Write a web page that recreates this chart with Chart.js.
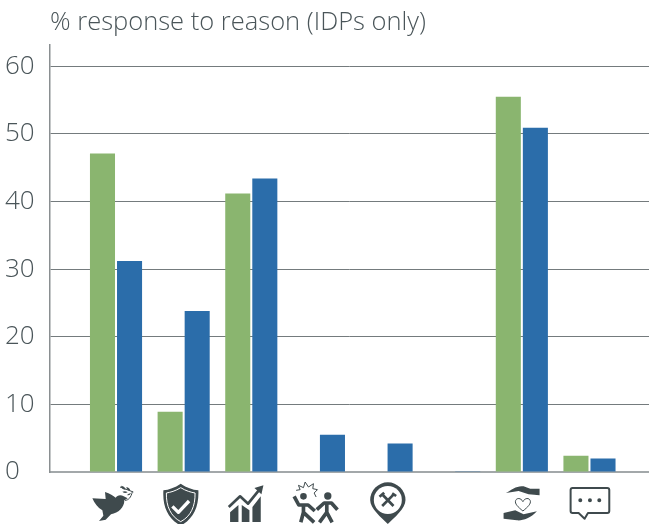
<!DOCTYPE html>
<html>
<head>
<meta charset="utf-8">
<title>% response to reason</title>
<script src="https://cdn.jsdelivr.net/npm/chart.js@4"></script>
<style>
  html, body { margin: 0; padding: 0; background: #fff; }
  canvas { display: block; }
</style>
</head>
<body>
<canvas id="myChart" width="649" height="524"></canvas>
<script>
const titleText = '% response to reason (IDPs only)';
// the reference labels its categories with icons, one slot has no icon
const categories = ['peace', 'security', 'economy', 'conflict', 'services', '', 'care', 'other'];
const greenValues = [47.1, 8.9, 41.2, 0, 0, 0, 55.5, 2.4];
const blueValues = [31.2, 23.8, 43.4, 5.5, 4.2, 0.1, 50.9, 2];
const yTicks = [0, 10, 20, 30, 40, 50, 60];

const textColor = '#4a5559';
const iconColor = '#3f4a4d';

// icon paths, drawn in 3x units. dx moves them from the tick to where they sit
const icons = {
  peace: { dx: -31, fill: ['M22 64 L62 66 L60 45 C75 50 85 56 92 62 C96 54 108 52 116 58 L128 64 L118 70 C118 92 100 108 78 112 L62 128 L42 132 L55 116 L52 100 C38 92 28 78 22 64 Z',
    'M108 26 q12 2 14 12 q-12 0 -14 -12 Z M124 30 q10 2 12 11 q-11 0 -12 -11 Z M112 44 q10 -3 16 2 q-9 5 -16 -2 Z M126 54 q6 -6 12 -5 q-4 8 -12 5 Z'],
    stroke: [['M105 30 L145 45 M120 70 C130 70 138 62 142 44', 3, iconColor]] },
  security: { dx: -98.6, fill: ['M287 20 C305 32 322 38 340 40 C342 90 325 125 287 146 C249 125 232 90 235 40 C252 38 269 32 287 20 Z'],
    stroke: [['M287 32 C303 42 318 46 330 48 C331 88 317 118 287 134 C257 118 243 88 244 48 C256 46 271 42 287 32 Z', 3, '#fff'], ['M262 88 L280 106 L312 72', 10, '#fff']] },
  economy: { dx: -31.2, fill: ['M30 135 L30 106 L55 84 L55 135 Z M65 135 L65 84 L88 100 L88 135 Z M97 135 L97 90 L122 58 L122 135 Z', 'M130 25 L103 33 L124 52 Z'],
    stroke: [['M26 90 L60 58 L84 80 L118 38', 8, iconColor]] },
  conflict: { dx: -98.8, fill: ['M240 58 a10 10 0 1 0 20 0 a10 10 0 1 0 -20 0 Z M312 57 a11 11 0 1 0 22 0 a11 11 0 1 0 -22 0 Z'],
    stroke: [['M222 58 L236 84 L264 84 L284 102 M250 84 L250 106 L242 136 M250 106 L282 136 M290 98 L312 78 L334 78 L352 98 M320 78 L320 106 L298 136 M320 106 L336 136', 11, iconColor],
      ['M228 40 L240 38 L235 25 L250 32 L255 15 L265 30 L280 20 L278 35 L292 38 L282 48 L288 60', 3, iconColor]] },
  services: { dx: -26.4, fill: ['M30 69 A53 53 0 1 1 136 69 C136 95 102 122 83 141 C64 122 30 95 30 69 Z'],
    white: 'M41 69 a42 42 0 1 0 84 0 a42 42 0 1 0 -84 0 Z',
    stroke: [['M68 54 L100 87 M100 53 L66 87', 8, iconColor], ['M58 59 L72 47 M96 49 L108 57', 8, iconColor]] },
  care: { dx: -26.6, fill: ['M32 48 C50 38 65 25 85 28 L105 35 L133 35 L133 55 L100 52 L70 42 Z', 'M25 108 L60 100 L85 112 L125 103 C105 125 80 132 65 130 L25 125 Z'],
    stroke: [['M83 102 C68 90 58 80 61 71 C64 62 77 62 83 74 C89 62 102 62 105 71 C108 80 98 90 83 102 Z', 3, iconColor]] },
  other: { dx: -94.2, fill: ['M249 70 a6 6 0 1 0 12 0 a6 6 0 1 0 -12 0 Z M278 70 a6 6 0 1 0 12 0 a6 6 0 1 0 -12 0 Z M306 70 a6 6 0 1 0 12 0 a6 6 0 1 0 -12 0 Z'],
    stroke: [['M232 33 L336 33 Q342 33 342 39 L342 102 Q342 108 336 108 L278 108 L268 125 L250 108 L232 108 Q226 108 226 102 L226 39 Q226 33 232 33 Z', 6, iconColor]] }
};

// x axis draws no labels, the icons take their place under each tick
const iconAxis = {
  id: 'iconAxis',
  afterDraw(chart) {
    const ctx = chart.ctx;
    const top = chart.scales.y.bottom + 5;
    categories.forEach((name, i) => {
      const icon = icons[name];
      if (!icon) return;
      ctx.save();
      ctx.translate(chart.scales.x.getPixelForValue(i) + icon.dx, top);
      ctx.scale(1 / 3, 1 / 3);
      ctx.lineJoin = 'round';
      ctx.fillStyle = iconColor;
      icon.fill.forEach(d => ctx.fill(new Path2D(d)));
      if (icon.white) {
        ctx.fillStyle = '#fff';
        ctx.fill(new Path2D(icon.white));
      }
      icon.stroke.forEach(([d, width, color]) => {
        ctx.lineWidth = width;
        ctx.strokeStyle = color;
        ctx.stroke(new Path2D(d));
      });
      ctx.restore();
    });
  }
};

const toPoints = values => values.map((y, x) => ({ x, y }));

const data = {
  datasets: [{
    label: 'Green',
    data: toPoints(greenValues),
    backgroundColor: '#8ab56f',
    categoryPercentage: 0.8,
    barPercentage: 0.926
  }, {
    label: 'Blue',
    data: toPoints(blueValues),
    backgroundColor: '#2b6daa',
    categoryPercentage: 0.8,
    barPercentage: 0.926
  }]
};

const config = {
  type: 'bar',
  data,
  plugins: [iconAxis],
  options: {
    responsive: false,
    animation: false,
    layout: { padding: { left: 5, right: 0, bottom: 44, top: 0 } },
    plugins: {
      legend: { display: false },
      tooltip: { enabled: false },
      title: {
        display: true,
        text: titleText,
        align: 'start',
        fullSize: false,
        color: textColor,
        font: { family: '"Open Sans"', size: 25.5, weight: 300, lineHeight: 1.2 },
        padding: { top: 7, bottom: 7 }
      }
    },
    scales: {
      x: {
        type: 'linear',
        offset: false,
        min: -0.976,
        max: 7.88,
        grid: { display: false },
        ticks: { display: false, stepSize: 1, includeBounds: false },
        border: { color: '#a3a8aa', width: 2 }
      },
      y: {
        min: 0,
        max: 63.2,
        afterFit(scale) { scale.width = 45; },
        afterBuildTicks(scale) { scale.ticks = yTicks.map(value => ({ value })); },
        grid: { color: '#747b7d', lineWidth: 1, drawTicks: false },
        border: { color: '#8a8f91', width: 1.5 },
        ticks: {
          crossAlign: 'far',
          padding: 0,
          color: textColor,
          font: { family: '"Open Sans"', size: 26, weight: 300 }
        }
      }
    }
  }
};

new Chart(document.getElementById('myChart'), config);
</script>
</body>
</html>
